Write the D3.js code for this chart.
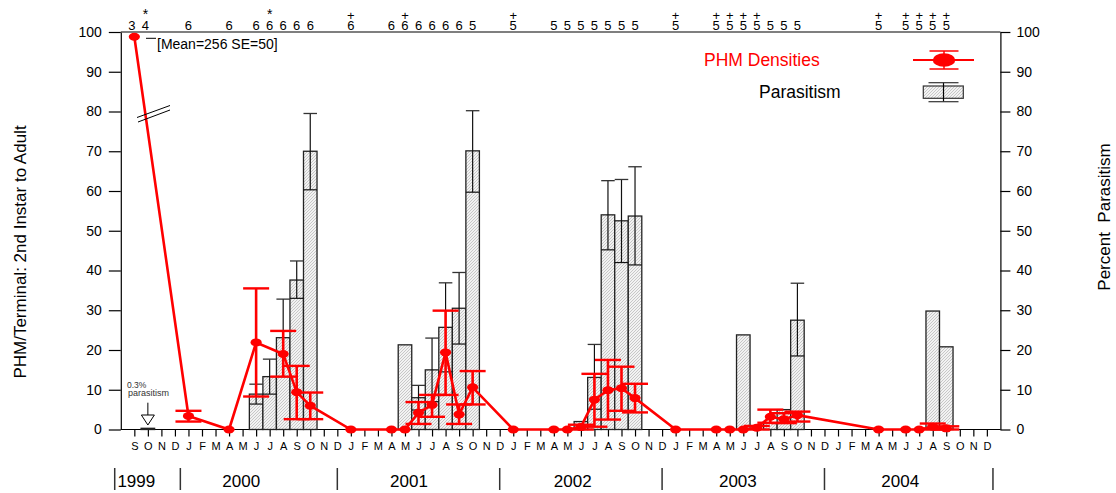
<!DOCTYPE html>
<html><head><meta charset="utf-8">
<script src="https://cdn.jsdelivr.net/npm/d3@7"></script>
<style>
body{margin:0;background:#fff;}
svg{display:block;font-family:"Liberation Sans",Arial,sans-serif;}
</style></head>
<body><svg id="c" width="1116" height="493"></svg>
<script>
// ---- data ----
const monthLetters = ["S","O","N","D","J","F","M","A","M","J","J","A"]; // cycle starting Sep 1999
const monthCount = 64; // Sep 1999 .. Dec 2004
const yTicks = [0,10,20,30,40,50,60,70,80,90,100];

// PHM densities (month index from Sep 1999 = 0)
const phmMonth = [0,4,7,9,11,12,13,16,19,20,21,22,23,24,25,28,31,32,33,34,35,36,37,40,43,44,45,46,47,48,49,55,57,58,59,60];
const phmValue = [98.8,3.4,0,21.9,19.0,9.4,6.0,0,0,0,4.2,6.2,19.4,3.8,10.6,0,0,0,0.6,7.5,9.9,10.4,7.9,0,0,0,0,0.45,3.2,2.6,3.6,0,0,0,0.7,0.3];
const phmHigh  = [null,4.7,null,35.5,24.8,16.0,9.3,null,null,null,6.9,8.7,29.9,6.3,14.7,null,null,null,1.2,14.0,17.5,15.8,11.5,null,null,null,null,0.9,5.0,4.1,4.5,null,null,null,1.5,0.8];
const phmLow   = [null,2.0,null,8.3,13.3,2.6,2.6,null,null,null,1.4,3.2,8.7,1.4,6.3,null,null,null,0.0,0.7,2.5,4.7,4.3,null,null,null,null,0.0,1.7,1.6,2.0,null,null,null,0.0,0.0];

// Parasitism (%)
const parMonth = [1,9,10,11,12,13,20,21,22,23,24,25,33,34,35,36,37,45,47,48,49,59,60];
const parValue = [0.3,8.9,13.3,23.1,37.6,70.0,21.3,8.0,15.0,25.7,30.5,70.1,2.0,13.1,54.0,52.5,53.7,23.8,1.7,5.0,27.5,29.8,20.8];
const parHigh  = [null,11.4,17.7,32.8,42.4,79.5,null,11.1,23.0,36.9,39.5,80.2,null,21.4,62.6,62.9,66.1,null,null,null,36.8,null,null];
const parLow   = [null,6.4,8.9,13.3,33.0,60.3,null,4.9,7.0,14.5,21.5,59.7,null,5.1,45.2,42.0,41.4,null,null,null,18.5,null,null];

// sample sizes along the top
const nMonth = [0,1,4,7,9,10,11,12,13,16,19,20,21,22,23,24,25,28,31,32,33,34,35,36,37,40,43,44,45,46,47,48,49,55,57,58,59,60];
const nLabel = ["3","4","6","6","6","6","6","6","6","6","6","6","6","6","6","6","5","5","5","5","5","5","5","5","5","5","5","5","5","5","5","5","5","5","5","5","5","5"];
const starMonth = [1,10];
const plusMonth = [16,20,28,40,43,44,45,46,55,57,58,59,60];

// years along the bottom
const yearLabel = ["1999","2000","2001","2002","2003","2004"];
const yearPos = [-1.25,7.9,20.3,32.4,44.6,56.6];
const yearSep = [-1.45,3.4,15,27,39,51,63.45];

// ---- drawing ----
const svg = d3.select("#c");
const x = d3.scaleLinear().domain([-1, monthCount]).range([120.8, 1000.4]);
const y = d3.scaleLinear().domain([0, 100]).range([429.5, 32]);
const bw = x(1) - x(0);
const RED = "#ff0000";

const defs = svg.append("defs");
const pat = defs.append("pattern").attr("id","hatch").attr("patternUnits","userSpaceOnUse")
  .attr("width",3).attr("height",3);
pat.append("rect").attr("width",3).attr("height",3).attr("fill","#f2f2f2");
pat.append("path").attr("d","M-1,1 l2,-2 M0,3 l3,-3 M2,4 l2,-2").attr("stroke","#b4b4b4").attr("stroke-width",0.7);

// axes
const gl = svg.append("g").attr("transform",`translate(${x(-1)},0)`)
  .call(d3.axisLeft(y).tickValues(yTicks).tickSize(12).tickPadding(7).tickSizeOuter(0));
const gr = svg.append("g").attr("transform",`translate(${x(monthCount)},0)`)
  .call(d3.axisRight(y).tickValues(yTicks).tickSize(10).tickPadding(6).tickSizeOuter(0));
[gl,gr].forEach(g=>{
  g.selectAll("text").attr("font-size",14).attr("fill","#000").attr("font-family","Liberation Sans, Arial, sans-serif");
  g.selectAll("line,path").attr("stroke","#000").attr("stroke-width",1.2);
});
const gb = svg.append("g").attr("transform",`translate(0,${y(0)})`)
  .call(d3.axisBottom(x).tickValues(d3.range(0,monthCount)).tickSize(7).tickSizeOuter(0)
    .tickFormat(i=>monthLetters[i%12]));
gb.select(".domain").remove();
gb.selectAll("line").attr("stroke","#000").attr("stroke-width",1.2);
gb.selectAll("text").attr("font-size",11).attr("y",13).attr("fill","#000")
  .attr("font-family","Liberation Sans, Arial, sans-serif");
// frame lines
svg.append("line").attr("x1",x(-1)).attr("x2",x(monthCount)).attr("y1",y(0)).attr("y2",y(0)).attr("stroke","#000").attr("stroke-width",1.2);
svg.append("line").attr("x1",x(-1)).attr("x2",x(monthCount)).attr("y1",y(100)).attr("y2",y(100)).attr("stroke","#000").attr("stroke-width",1.2);

// parasitism bars
const bars = parMonth.map((m,i)=>({m,v:parValue[i],hi:parHigh[i],lo:parLow[i]}));
const gbars = svg.append("g");
gbars.selectAll("rect").data(bars).join("rect")
  .attr("x",d=>x(d.m)-bw/2).attr("width",bw)
  .attr("y",d=>y(d.v)).attr("height",d=>y(0)-y(d.v))
  .attr("fill","url(#hatch)").attr("stroke","#222").attr("stroke-width",1.3);
const be = bars.filter(d=>d.hi!=null);
gbars.selectAll("line.v").data(be).join("line").attr("class","v")
  .attr("x1",d=>x(d.m)).attr("x2",d=>x(d.m)).attr("y1",d=>y(d.lo)).attr("y2",d=>y(d.hi))
  .attr("stroke","#111").attr("stroke-width",1.2);
gbars.selectAll("line.t").data(be).join("line").attr("class","t")
  .attr("x1",d=>x(d.m)-bw/2).attr("x2",d=>x(d.m)+bw/2).attr("y1",d=>y(d.hi)).attr("y2",d=>y(d.hi))
  .attr("stroke","#333").attr("stroke-width",1.3);
gbars.selectAll("line.b").data(be).join("line").attr("class","b")
  .attr("x1",d=>x(d.m)-bw/2).attr("x2",d=>x(d.m)+bw/2).attr("y1",d=>y(d.lo)).attr("y2",d=>y(d.lo))
  .attr("stroke","#111").attr("stroke-width",1.2);

// PHM densities
const pts = phmMonth.map((m,i)=>({m,v:phmValue[i],hi:phmHigh[i],lo:phmLow[i]}));
const gp = svg.append("g");
gp.append("path").datum(pts)
  .attr("d",d3.line().x(d=>x(d.m)).y(d=>y(d.v)))
  .attr("fill","none").attr("stroke",RED).attr("stroke-width",2.6);
const pe = pts.filter(d=>d.hi!=null);
const cw = 13;
gp.selectAll("line.v").data(pe).join("line").attr("class","v")
  .attr("x1",d=>x(d.m)).attr("x2",d=>x(d.m)).attr("y1",d=>y(d.lo)).attr("y2",d=>y(d.hi))
  .attr("stroke",RED).attr("stroke-width",2.6);
gp.selectAll("line.t").data(pe).join("line").attr("class","t")
  .attr("x1",d=>x(d.m)-cw).attr("x2",d=>x(d.m)+cw).attr("y1",d=>y(d.hi)).attr("y2",d=>y(d.hi))
  .attr("stroke",RED).attr("stroke-width",2.4);
gp.selectAll("line.b").data(pe).join("line").attr("class","b")
  .attr("x1",d=>x(d.m)-cw).attr("x2",d=>x(d.m)+cw).attr("y1",d=>y(d.lo)).attr("y2",d=>y(d.lo))
  .attr("stroke",RED).attr("stroke-width",2.4);
gp.selectAll("ellipse").data(pts).join("ellipse")
  .attr("cx",d=>x(d.m)).attr("cy",d=>y(d.v)).attr("rx",5.6).attr("ry",4)
  .attr("fill",RED);

// axis break marks and first-point annotation
svg.append("line").attr("x1",137).attr("y1",117.5).attr("x2",170).attr("y2",105.5).attr("stroke","#000").attr("stroke-width",1);
svg.append("line").attr("x1",138).attr("y1",122).attr("x2",170).attr("y2",110).attr("stroke","#000").attr("stroke-width",1);
svg.append("line").attr("x1",146).attr("x2",156).attr("y1",38.3).attr("y2",38.3).attr("stroke","#000").attr("stroke-width",1);
svg.append("text").attr("x",157).attr("y",49.3).attr("font-size",14).text("[Mean=256 SE=50]");

// 0.3% parasitism note
svg.append("text").attr("x",127).attr("y",388).attr("font-size",8.5).attr("fill","#333").text("0.3%");
svg.append("text").attr("x",128).attr("y",396).attr("font-size",9).attr("fill","#333").text("parasitism");
svg.append("line").attr("x1",x(1)).attr("x2",x(1)).attr("y1",402.7).attr("y2",415).attr("stroke","#000");
svg.append("path").attr("d",`M${x(1)-6.5},415 L${x(1)+6.5},415 L${x(1)},425 Z`).attr("fill","#fff").attr("stroke","#000");

// sample-size labels (marker and count in one text element)
const gt = svg.append("g").attr("font-size",13).attr("text-anchor","middle");
const lab = gt.selectAll("text.n").data(nMonth).join("text").attr("class","n")
  .attr("x",(m,i)=>x(m) - (i<2 ? 2.5 : 0)).attr("y",30);
lab.each(function(m,i){
  const t = d3.select(this);
  const mk = starMonth.includes(m) ? "*" : (plusMonth.includes(m) ? "+" : null);
  const xx = x(m) - (i<2 ? 2.5 : 0);
  if (mk) {
    t.append("tspan").attr("x",xx).attr("y", mk==="*" ? 19 : 19.5)
      .attr("font-size", mk==="*" ? 14 : 13).text(mk);
  }
  t.append("tspan").attr("x",xx).attr("y",30).text(nLabel[i]);
});

// years
svg.selectAll("line.ys").data(yearSep).join("line").attr("class","ys")
  .attr("x1",d=>x(d)).attr("x2",d=>x(d)).attr("y1",468).attr("y2",490)
  .attr("stroke","#333").attr("stroke-width",1.5);
svg.selectAll("text.yr").data(yearLabel).join("text").attr("class","yr")
  .attr("x",(d,i)=>x(yearPos[i])).attr("y",487).attr("font-size",17)
  .attr("text-anchor",(d,i)=>i===0?"start":"middle").text(d=>d);

// axis titles
svg.append("text").attr("transform","translate(26,252) rotate(-90)").attr("text-anchor","middle")
  .attr("font-size",17).text("PHM/Terminal: 2nd Instar to Adult");
svg.append("text").attr("transform","translate(1110,217) rotate(-90)").attr("text-anchor","middle")
  .attr("font-size",17).text("Percent\u00A0\u00A0Parasitism");

// legend
svg.append("text").attr("x",704).attr("y",65.5).attr("font-size",17.5).attr("fill",RED).text("PHM Densities");
svg.append("line").attr("x1",913).attr("x2",974).attr("y1",60).attr("y2",60).attr("stroke",RED).attr("stroke-width",2);
svg.append("line").attr("x1",944).attr("x2",944).attr("y1",51).attr("y2",69).attr("stroke",RED).attr("stroke-width",1.5);
[51,69].forEach(yy=>svg.append("line").attr("x1",929.5).attr("x2",958.5).attr("y1",yy).attr("y2",yy).attr("stroke",RED).attr("stroke-width",1.5));
svg.append("ellipse").attr("cx",944).attr("cy",60).attr("rx",11.3).attr("ry",6.8).attr("fill",RED);
svg.append("text").attr("x",759).attr("y",97.5).attr("font-size",17.5).attr("fill","#000").text("Parasitism");
svg.append("rect").attr("x",923.3).attr("y",86).attr("width",40).attr("height",12.3).attr("fill","url(#hatch)").attr("stroke","#333").attr("stroke-width",1.2);
svg.append("line").attr("x1",943.5).attr("x2",943.5).attr("y1",82.7).attr("y2",101.7).attr("stroke","#000").attr("stroke-width",1.2);
[82.7,101.7].forEach(yy=>svg.append("line").attr("x1",928.5).attr("x2",958.5).attr("y1",yy).attr("y2",yy).attr("stroke","#333").attr("stroke-width",1.2));
</script>
</body></html>
